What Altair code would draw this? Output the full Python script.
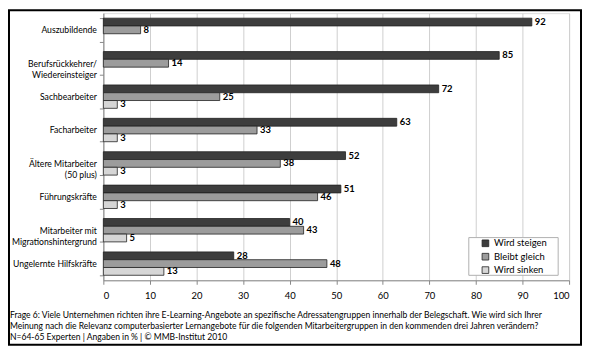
import altair as alt
import pandas as pd

categories = [
    "Auszubildende",
    "Berufsrückkehrer/\nWiedereinsteiger",
    "Sachbearbeiter",
    "Facharbeiter",
    "Ältere Mitarbeiter\n(50 plus)",
    "Führungskräfte",
    "Mitarbeiter mit\nMigrationshintergrund",
    "Ungelernte Hilfskräfte",
]
series = ["Wird steigen", "Bleibt gleich", "Wird sinken"]
steigen = [92, 85, 72, 63, 52, 51, 40, 28]
gleich = [8, 14, 25, 33, 38, 46, 43, 48]
sinken = [None, None, 3, 3, 3, 3, 5, 13]
colors = ["#3d3d3d", "#9c9c9c", "#d6d6d6"]
caption = [
    "Frage 6: Viele Unternehmen richten ihre E-Learning-Angebote an spezifische Adressatengruppen innerhalb der Belegschaft. Wie wird sich Ihrer",
    "Meinung nach die Relevanz computerbasierter Lernangebote für die folgenden Mitarbeitergruppen in den kommenden drei Jahren verändern?",
    "N=64-65 Experten | Angaben in % | © MMB-Institut 2010",
]

rows = []
for s, vals in zip(series, [steigen, gleich, sinken]):
    for c, v in zip(categories, vals):
        if v is not None:
            rows.append({"cat": c, "series": s, "value": v})
df = pd.DataFrame(rows)

FONT = "Lato"
W, H = 469, 269

y_enc = alt.Y(
    "cat:N", sort=categories, title=None,
    scale=alt.Scale(paddingInner=0.3, paddingOuter=0.15),
    axis=alt.Axis(
        labelExpr="split(datum.label, '\\n')", labelFont=FONT, labelFontSize=8.7,
        labelColor="#000", labelLineHeight=11, tickBand="extent", tickSize=4,
        tickColor="#888", domainColor="#888", labelPadding=3, grid=False,
    ),
)
yoff = alt.YOffset("series:N", sort=series, scale=alt.Scale(paddingInner=0, paddingOuter=0))
x_enc = alt.X(
    "value:Q", title=None, scale=alt.Scale(domain=[0, 100], nice=False),
    axis=alt.Axis(
        values=list(range(0, 101, 10)), labelFont=FONT, labelFontSize=9.5,
        labelColor="#000", tickSize=4, tickColor="#888", domainColor="#888",
        gridColor="#cfcfcf", labelPadding=6,
    ),
)

base = alt.Chart(df)
bars = base.mark_bar(stroke="#222", strokeWidth=0.8).encode(
    y=y_enc, yOffset=yoff, x=x_enc,
    color=alt.Color(
        "series:N", sort=series, title=None,
        scale=alt.Scale(domain=series, range=colors),
        legend=alt.Legend(
            orient="none", legendX=380, legendY=227, padding=0,
            symbolType="square", symbolSize=45,
            symbolStrokeColor="#222", symbolStrokeWidth=0.8, labelFont=FONT,
            labelFontSize=9.5, labelColor="#000", rowPadding=2.5, labelOffset=4,
        ),
    ),
)
labels = base.mark_text(
    align="left", baseline="middle", dx=3, font=FONT, fontSize=9.5, fontWeight="bold", color="#000"
).encode(y=alt.Y("cat:N", sort=categories), yOffset=yoff, x="value:Q", text="value:Q")

one = alt.Data(values=[{}])
legend_box = alt.Chart(one).mark_rect(fill="#ffffff", stroke="#b0b0b0", strokeWidth=1).encode(
    x=alt.value(368), x2=alt.value(458), y=alt.value(226), y2=alt.value(264)
)

frame = alt.Chart(one).mark_rect(
    fill=None, fillOpacity=0, stroke="#000", strokeWidth=2
).encode(x=alt.value(-95), x2=alt.value(W + 12), y=alt.value(-3), y2=alt.value(H + 65))

cap = alt.Chart(one).mark_text(
    align="left", baseline="top", font=FONT, fontSize=8.6, color="#000", lineHeight=11
).encode(x=alt.value(-94), y=alt.value(H + 31), text=alt.value(caption))

chart = alt.layer(bars, labels, legend_box, frame, cap).properties(
    width=W, height=H,
    padding={"left": 96, "top": 4, "right": 13, "bottom": 67},
    autosize=alt.AutoSizeParams(type="none"),
).configure_view(stroke="#cfcfcf").configure(background="#ffffff")

chart.save("out.html", embed_options={"renderer": "svg", "actions": False})
